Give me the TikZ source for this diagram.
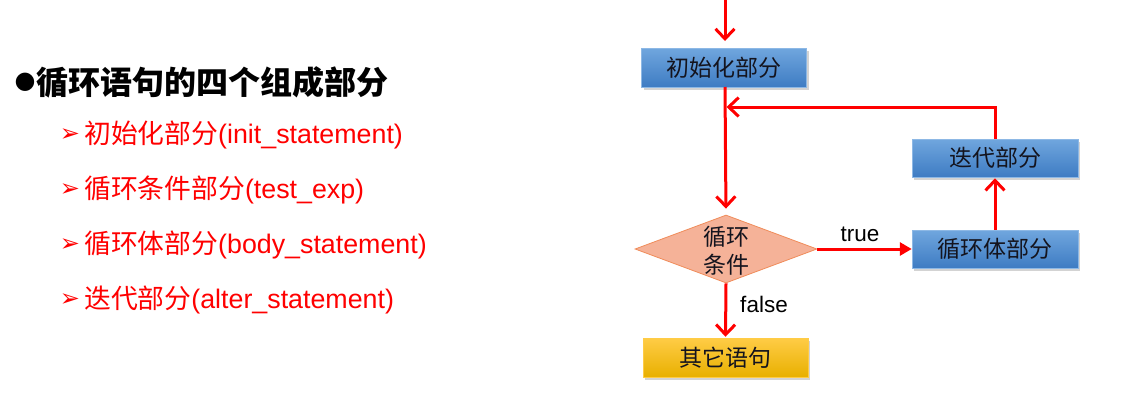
\documentclass[tikz,border=0pt]{standalone}
\usepackage{fontspec}
\setmainfont{Liberation Sans}
\newfontfamily\cjk{Noto Sans CJK SC}
\newfontfamily\dejavu{DejaVu Sans}
\usetikzlibrary{arrows.meta,shapes.geometric,shadows}
\definecolor{arrred}{RGB}{255,0,0}
\definecolor{bluetop}{RGB}{112,166,222}
\definecolor{bluebot}{RGB}{62,124,195}
\definecolor{goldtop}{RGB}{255,204,70}
\definecolor{goldbot}{RGB}{232,176,0}
\definecolor{dfill}{RGB}{245,178,152}
\definecolor{dborder}{RGB}{240,140,90}
\definecolor{boxtext}{RGB}{20,20,30}
\tikzset{
  bluebox/.style={rectangle, inner sep=0pt, minimum width=166pt, minimum height=38pt,
    top color=bluetop, bottom color=bluebot, draw=bluetop!80!white, line width=0.5pt,
    drop shadow={shadow xshift=2pt, shadow yshift=-3pt, opacity=0.35},
    text=boxtext, font=\cjk\fontsize{23}{27}\selectfont},
  goldbox/.style={bluebox, top color=goldtop, bottom color=goldbot, draw=goldtop},
  condshape/.style={diamond, inner sep=0pt, minimum width=182pt, minimum height=68pt,
    fill=dfill, draw=dborder, line width=0.8pt},
  flow/.style={draw=arrred, line width=3pt, -{Straight Barb[length=10pt,width=19pt]}},
  flowtri/.style={draw=arrred, line width=3pt, -{Triangle[length=12pt,width=13pt]}},
  lbl/.style={font=\fontsize{22.5}{26}\selectfont, text=black, inner sep=0pt},
  item/.style={anchor=west, inner sep=0pt, text=arrred, font=\fontsize{26.8}{30}\selectfont},
  itembullet/.style={anchor=center, inner sep=0pt, text=arrred, font=\dejavu\fontsize{24}{28}\selectfont},
}
\begin{document}
\begin{tikzpicture}[x=1pt,y=-1pt]
\useasboundingbox (0,0) rectangle (1135,400);
% left text
\node[inner sep=0pt, font=\dejavu\fontsize{24}{28}\selectfont] (dot) at (25,82) {●};
\node[anchor=west, inner sep=0pt, font=\cjk\bfseries\fontsize{32}{36}\selectfont] (title) at (36,82) {循环语句的四个组成部分};
\node[itembullet] (b1) at (70,135) {➢};
\node[item] (t1) at (84,135) {{\cjk 初始化部分}(init\_statement)};
\node[itembullet] (b2) at (70,190) {➢};
\node[item] (t2) at (84,190) {{\cjk 循环条件部分}(test\_exp)};
\node[itembullet] (b3) at (70,245) {➢};
\node[item] (t3) at (84,245) {{\cjk 循环体部分}(body\_statement)};
\node[itembullet] (b4) at (70,300) {➢};
\node[item] (t4) at (84,300) {{\cjk 迭代部分}(alter\_statement)};
% flowchart
\coordinate (start) at (725,-2);
\node[bluebox, minimum width=165pt, minimum height=39pt] (init) at (724,67.5) {初始化部分};
\node[condshape] (cond) at (726,249) {};
\node[align=center, inner sep=0pt, text=boxtext, font=\cjk\fontsize{23}{28}\selectfont] (condtxt) at (726,251) {循环\\条件};
\node[bluebox] (iter) at (995,158) {迭代部分};
\node[bluebox] (body) at (995,249) {循环体部分};
\node[goldbox, minimum width=165pt, minimum height=39pt] (other) at (725.5,357.5) {其它语句};
\coordinate (merge) at (726.5,107);
\draw[flow, shorten >=7pt] (start) -- (725,48);
\draw[flow, shorten >=6pt] (725,87) -- (cond.north);
\draw[flow] (iter.north) |- (merge);
\draw[flowtri] (cond.east) -- (body.west);
\draw[flow, shorten >=1pt] (body.north) -- (iter.south);
\draw[flow, shorten >=1pt] (cond.south) -- (other.north);
\node[lbl] (truel) at (860,234) {true};
\node[lbl] (falsel) at (764,304) {false};
\end{tikzpicture}
\end{document}
